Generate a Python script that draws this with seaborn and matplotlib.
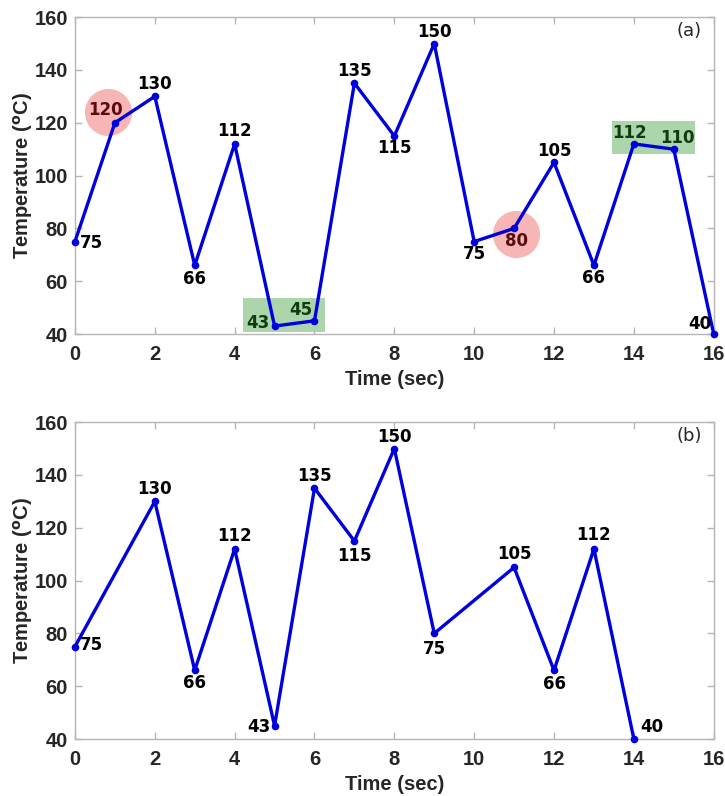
import numpy as np
import pandas as pd
import seaborn as sns
import matplotlib.pyplot as plt

# Panel (a) data
time_a = [0, 1, 2, 3, 4, 5, 6, 7, 8, 9, 10, 11, 12, 13, 14, 15, 16]
temp_a = [75, 120, 130, 66, 112, 43, 45, 135, 115, 150, 75, 80, 105, 66, 112, 110, 40]
labels_a = ['75', '120', '130', '66', '112', '43', '45', '135', '115', '150', '75', '80', '105', '66', '112', '110', '40']

# Panel (b) data (labels as printed on the chart)
time_b = [0, 2, 3, 4, 5, 6, 7, 8, 9, 11, 12, 13, 14]
temp_b = [75, 130, 66, 112, 45, 135, 115, 150, 80, 105, 66, 112, 40]
labels_b = ['75', '130', '66', '112', '43', '135', '115', '150', '75', '105', '66', '112', '40']

# highlighted items in panel (a)
circle_x = [0.83, 11.05]
circle_y = [124, 77.8]
boxes = [(4.2, 40.7, 2.06, 12.9), (13.45, 108.1, 2.07, 12.5)]
green_idx = [5, 6, 14, 15]
red_idx = [1, 11]

# label offsets (points)
offs_a = [(12, -1), (-7, 9), (0, 9), (0, -10), (0, 9), (-12, 2), (-10, 8),
          (0, 9), (0, -9), (0, 8), (0, -9), (2, -9), (0, 8), (0, -9), (-3, 8), (3, 8), (-10, 7)]
offs_b = [(12, 1), (0, 9), (0, -9), (0, 9), (-11, -1), (0, 9), (0, -11),
          (0, 8), (0, -11), (0, 10), (0, -10), (0, 10), (13, 9)]

sns.set_style('ticks')
plt.rcParams['font.family'] = ['Liberation Sans', 'DejaVu Sans']

fig = plt.figure(figsize=(7.25, 7.96), dpi=100)
ax1 = fig.add_axes([0.1034, 0.5804, 0.881, 0.398])
ax2 = fig.add_axes([0.1034, 0.0716, 0.881, 0.398])

line_col = '#0000dd'
lab_font = dict(family='DejaVu Sans', weight='bold', size=12)


def style_axes(ax, tag):
    ax.set_xlim(0, 16)
    ax.set_ylim(40, 160)
    ax.set_xticks(range(0, 17, 2))
    ax.set_yticks(range(40, 161, 20))
    for s in ax.spines.values():
        s.set_color('#b5b5b5')
        s.set_linewidth(1.0)
        s.set_visible(True)
    ax.tick_params(direction='in', length=5, width=1, color='#b5b5b5',
                   top=True, right=True, labelsize=14.5, labelcolor='#262626', pad=5)
    ax.tick_params(axis='x', pad=8)
    for t in ax.get_xticklabels() + ax.get_yticklabels():
        t.set_fontweight('bold')
    ax.set_xlabel('Time (sec)', fontsize=14.5, fontweight='bold', color='#262626', labelpad=4)
    ax.set_ylabel(r'Temperature ($\mathbf{^o}$C)', fontsize=14.5, fontweight='bold',
                  color='#262626', labelpad=0)
    ax.text(0.962, 0.956, tag, transform=ax.transAxes, ha='center', va='center',
            fontsize=13, color='#262626', family='DejaVu Sans')


# panel (a) highlights
for (x0, y0, w, h) in boxes:
    ax1.add_patch(plt.Rectangle((x0, y0), w, h, color='#a3d1a3', alpha=0.9, zorder=1, lw=0))
ax1.scatter(circle_x, circle_y, s=1150, color='#f7a8a8', alpha=0.85, zorder=1, lw=0)

df_a = pd.DataFrame({'t': time_a, 'T': temp_a})
sns.lineplot(data=df_a, x='t', y='T', ax=ax1, color=line_col, lw=2.4, marker='o',
             markersize=5.5, markeredgewidth=0, zorder=3)
for i, (x, y, lab) in enumerate(zip(time_a, temp_a, labels_a)):
    col = 'black'
    if i in green_idx:
        col = '#103d10'
    if i in red_idx:
        col = '#5a0c0c'
    ax1.annotate(lab, (x, y), xytext=offs_a[i], textcoords='offset points',
                 ha='center', va='center', color=col, zorder=4, **lab_font)
style_axes(ax1, '(a)')

df_b = pd.DataFrame({'t': time_b, 'T': temp_b})
sns.lineplot(data=df_b, x='t', y='T', ax=ax2, color=line_col, lw=2.4, marker='o',
             markersize=5.5, markeredgewidth=0, zorder=3)
for i, (x, y, lab) in enumerate(zip(time_b, temp_b, labels_b)):
    ax2.annotate(lab, (x, y), xytext=offs_b[i], textcoords='offset points',
                 ha='center', va='center', color='black', zorder=4, **lab_font)
style_axes(ax2, '(b)')

for ax in (ax1, ax2):
    for ln in ax.lines:
        ln.set_clip_on(False)

fig.savefig('out.png', dpi=100)
